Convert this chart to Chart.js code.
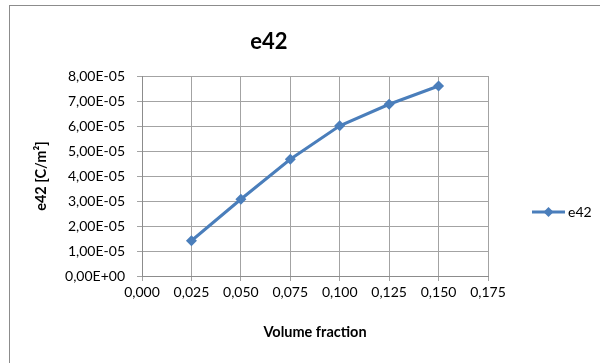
<!DOCTYPE html>
<html>
<head>
<meta charset="utf-8">
<script src="https://cdn.jsdelivr.net/npm/chart.js@4"></script>
<style>
  html, body { margin: 0; padding: 0; background: #fff; overflow: hidden; }
  #wrap { width: 600px; height: 363px; }
</style>
</head>
<body>
<div id="wrap"><canvas id="chart" width="600" height="363"></canvas></div>
<script>
// values
const fractions = [0.025, 0.05, 0.075, 0.1, 0.125, 0.15];
const e42 = [1.41e-5, 3.07e-5, 4.67e-5, 6.01e-5, 6.87e-5, 7.60e-5];
const seriesLabel = "e42";
const chartTitle = "e42";
const xTitle = "Volume fraction";
const yTitle = "e42 [C/m\u00B2]";

const FONT = "Lato, 'Open Sans', sans-serif";
const BLUE = "#4a7ebb";
const GRID = "#a3a3a3";

// y labels like 8,00E-05
function sciLabel(v) {
  let [m, e] = Number(v).toExponential(2).split("e");
  let sign = e[0] === "-" ? "-" : "+";
  let digits = e.replace(/[+-]/, "").padStart(2, "0");
  return m.replace(".", ",") + "E" + sign + digits;
}

// frame, title (centred on the whole chart like Excel) and legend on the right
const decorations = {
  id: "decorations",
  beforeDraw(chart) {
    const ctx = chart.ctx;
    ctx.save();
    ctx.strokeStyle = "#8c8c8c";
    ctx.lineWidth = 1;
    ctx.strokeRect(9.5, 5.5, 1000, 1000);
    ctx.restore();
  },
  afterDraw(chart) {
    const ctx = chart.ctx;
    const ds = chart.data.datasets[0];
    ctx.save();
    ctx.fillStyle = "#000";
    ctx.font = "bold 22px " + FONT;
    ctx.textAlign = "center";
    ctx.textBaseline = "middle";
    ctx.fillText(chartTitle, 269, 42);

    const y = 212;
    ctx.strokeStyle = ds.borderColor;
    ctx.lineWidth = ds.borderWidth;
    ctx.beginPath();
    ctx.moveTo(532, y);
    ctx.lineTo(565, y);
    ctx.stroke();
    ctx.fillStyle = ds.pointBackgroundColor;
    ctx.beginPath();
    ctx.moveTo(548.5, y - 5);
    ctx.lineTo(553.5, y);
    ctx.lineTo(548.5, y + 5);
    ctx.lineTo(543.5, y);
    ctx.closePath();
    ctx.fill();
    ctx.fillStyle = "#000";
    ctx.font = "14px " + FONT;
    ctx.textAlign = "left";
    ctx.fillText(ds.label, 568, y);
    ctx.restore();
  }
};

const ctx = document.getElementById("chart").getContext("2d");
const chart = new Chart(ctx, {
  type: "line",
  data: {
    datasets: [
      {
        label: seriesLabel,
        data: fractions.map((x, i) => ({ x: x, y: e42[i] })),
        borderColor: BLUE,
        backgroundColor: BLUE,
        pointBackgroundColor: BLUE,
        pointBorderColor: BLUE,
        borderWidth: 3,
        pointStyle: "rectRot",
        pointRadius: 5.5,
        pointBorderWidth: 0,
        tension: 0,
        fill: false
      }
    ]
  },
  options: {
    responsive: false,
    animation: false,
    layout: { padding: { left: 0, right: 112, top: 76, bottom: 0 } },
    plugins: {
      legend: { display: false },
      tooltip: { enabled: false },
      title: { display: false }
    },
    scales: {
      x: {
        type: "linear",
        min: 0,
        max: 0.175,
        afterFit: s => { s.height = 87; },
        ticks: {
          stepSize: 0.025,
          color: "#000",
          font: { family: FONT, size: 14 },
          padding: 3,
          maxRotation: 0,
          callback: v => Number(v).toFixed(3).replace(".", ",")
        },
        grid: { color: GRID, tickLength: 5, tickColor: GRID },
        border: { color: "#8c8c8c" },
        title: {
          display: true,
          text: xTitle,
          color: "#000",
          font: { family: FONT, size: 14.5, weight: "bold" },
          padding: { top: 0, bottom: 22 }
        }
      },
      y: {
        min: 0,
        max: 8e-5,
        afterFit: s => { s.width = 142; },
        ticks: {
          stepSize: 1e-5,
          color: "#000",
          font: { family: FONT, size: 14 },
          padding: 12,
          callback: v => sciLabel(v)
        },
        grid: { color: GRID, tickLength: 5, tickColor: GRID },
        border: { color: "#8c8c8c" },
        title: {
          display: true,
          text: yTitle,
          color: "#000",
          font: { family: FONT, size: 14.5, weight: "bold" },
          padding: { top: 33, bottom: 0 }
        }
      }
    }
  },
  plugins: [decorations]
});
</script>
</body>
</html>
